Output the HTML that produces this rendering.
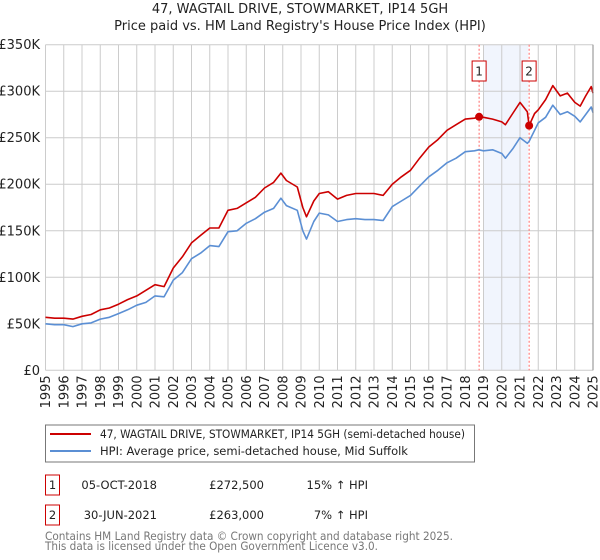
<!DOCTYPE html>
<html><head><meta charset="utf-8"><style>
body{margin:0;background:#fff;font-family:"Liberation Sans","DejaVu Sans",sans-serif;}
#wrap{position:relative;width:600px;height:560px;overflow:hidden;}
</style></head><body>
<div id="wrap">
<svg id="chart" width="600" height="560" style="position:absolute;left:0;top:0;font-family:'DejaVu Sans','Liberation Sans',sans-serif;">
<text x="300" y="13" text-anchor="middle" font-size="13" fill="#222">47, WAGTAIL DRIVE, STOWMARKET, IP14 5GH</text>
<text x="300" y="30" text-anchor="middle" font-size="13" fill="#222">Price paid vs. HM Land Registry's House Price Index (HPI)</text>
<g id="grid"></g><g id="marks"></g><g id="axes"></g>
<rect x="45.5" y="425" width="429" height="37" fill="#fff" stroke="#777"/>
<line x1="50" y1="434" x2="91" y2="434" stroke="#cc0000" stroke-width="2"/>
<text x="100" y="438" font-size="11.5" fill="#222" textLength="365" lengthAdjust="spacingAndGlyphs">47, WAGTAIL DRIVE, STOWMARKET, IP14 5GH (semi-detached house)</text>
<line x1="50" y1="451" x2="91" y2="451" stroke="#5b8fd4" stroke-width="2"/>
<text x="100" y="455" font-size="11.5" fill="#222">HPI: Average price, semi-detached house, Mid Suffolk</text>
<rect x="45.5" y="475" width="14" height="20" fill="#fff" stroke="#cc0000"/>
<text x="52.5" y="489" text-anchor="middle" font-size="11.5" fill="#222">1</text>
<text x="157" y="489" text-anchor="end" font-size="11.5" fill="#222">05-OCT-2018</text>
<text x="264" y="489" text-anchor="end" font-size="11.5" fill="#222">£272,500</text>
<text x="368" y="489" text-anchor="end" font-size="11.5" fill="#222">15% ↑ HPI</text>
<rect x="45.5" y="505" width="14" height="20" fill="#fff" stroke="#cc0000"/>
<text x="52.5" y="519" text-anchor="middle" font-size="11.5" fill="#222">2</text>
<text x="157" y="519" text-anchor="end" font-size="11.5" fill="#222">30-JUN-2021</text>
<text x="264" y="519" text-anchor="end" font-size="11.5" fill="#222">£263,000</text>
<text x="368" y="519" text-anchor="end" font-size="11.5" fill="#222">7% ↑ HPI</text>
<text x="45" y="540" font-size="11.5" fill="#777" textLength="408" lengthAdjust="spacingAndGlyphs">Contains HM Land Registry data © Crown copyright and database right 2025.</text>
<text x="45" y="550" font-size="11.5" fill="#777" textLength="333" lengthAdjust="spacingAndGlyphs">This data is licensed under the Open Government Licence v3.0.</text>
</svg>
</div>
<script>
const dates = [1995,1995.5,1996,1996.5,1997,1997.5,1998,1998.5,1999,1999.5,2000,2000.5,2001,2001.5,2002,2002.5,2003,2003.5,2004,2004.5,2005,2005.5,2006,2006.5,2007,2007.5,2007.9,2008.2,2008.8,2009.1,2009.3,2009.7,2010,2010.5,2011,2011.5,2012,2012.5,2013,2013.5,2014,2014.5,2015,2015.5,2016,2016.5,2017,2017.5,2018,2018.5,2018.75,2019,2019.5,2020,2020.2,2020.6,2021,2021.4,2021.5,2021.8,2022,2022.4,2022.8,2023.2,2023.6,2024,2024.3,2024.6,2024.9,2025];
const hpiValues = [50,49,49,47,50,51,55,57,61,65,70,73,80,79,97,105,120,126,134,133,149,150,158,163,170,174,185,177,172,150,141,160,169,167,160,162,163,162,162,161,176,182,188,198,208,215,223,228,235,236,237,236,237,233,228,238,250,244,246,258,266,272,285,275,278,273,267,275,283,277];
const priceValues = [57,56,56,55,58,60,65,67,71,76,80,86,92,90,110,122,137,145,153,153,172,174,180,186,196,202,212,204,197,175,165,182,190,192,184,188,190,190,190,188,200,208,215,228,240,248,258,264,270,271,272.5,272,270,267,264,276,288,278,263,276,280,291,306,295,298,288,284,295,305,298];
const saleDates = [2018.76, 2021.5];
const salePrices = [272.5, 263];
const saleLabels = ["1","2"];
const yTicks = [0,50,100,150,200,250,300,350];
const yTickLabels = ["£0","£50K","£100K","£150K","£200K","£250K","£300K","£350K"];
const xTicks = [1995,1996,1997,1998,1999,2000,2001,2002,2003,2004,2005,2006,2007,2008,2009,2010,2011,2012,2013,2014,2015,2016,2017,2018,2019,2020,2021,2022,2023,2024,2025];

const NS="http://www.w3.org/2000/svg";
const X0=45.5,X1=593,Y0=370.3,Y1=44.7;
function xs(t){return X0+(t-1995)/30*(X1-X0);}
function ys(v){return Y0-v/350*(Y0-Y1);}
function mk(tag,attrs,parent){const e=document.createElementNS(NS,tag);for(const k in attrs)e.setAttribute(k,attrs[k]);parent.appendChild(e);return e;}
const grid=document.getElementById('grid'),marks=document.getElementById('marks'),axes=document.getElementById('axes');
const sh=mk('rect',{x:xs(2019.0),y:Y1,width:xs(saleDates[1])-xs(2019.0)-1,height:Y0-Y1,fill:'#edf2fc',opacity:0.8},grid);


yTicks.forEach((v,i)=>{
  const l=mk('line',{x1:X0,x2:X1,y1:ys(v),y2:ys(v),stroke:'#cccccc','stroke-width':1},grid);
  
  
  const t=mk('text',{x:40,y:ys(v)+4.5,'text-anchor':'end','font-size':13,fill:'#222'},axes);
  t.textContent=yTickLabels[i];
  
  
});
xTicks.forEach(yr=>{
  const l=mk('line',{x1:xs(yr),x2:xs(yr),y1:Y1,y2:Y0,stroke:'#cccccc','stroke-width':1},grid);
  
  
  const t=mk('text',{x:0,y:0,'text-anchor':'end','font-size':13,fill:'#222',transform:`translate(${xs(yr)+4.5},${Y0+5}) rotate(-90)`},axes);
  t.textContent=yr;
  
  
});
saleDates.forEach((d,i)=>{
  const l=mk('line',{x1:xs(d),x2:xs(d),y1:Y1,y2:Y0,stroke:'#ff6666','stroke-width':1,'stroke-dasharray':'2,2'},marks);
  
  
  const r=mk('rect',{x:xs(d)-7,y:61,width:14,height:20,fill:'#fff',stroke:'#cc0000'},marks);
  
  
  const t=mk('text',{x:xs(d),y:75.5,'text-anchor':'middle','font-size':12,fill:'#222'},marks);
  t.textContent=saleLabels[i];
  
  
});
function line(vals,color,name){
  const p=mk('path',{d:vals.map((v,i)=>(i?'L':'M')+xs(dates[i]).toFixed(1)+','+ys(v).toFixed(1)).join(''),fill:'none',stroke:color,'stroke-width':1.6,'stroke-linejoin':'round'},marks);
  
  
}
line(hpiValues,'#5b8fd4','hpi-line');
line(priceValues,'#cc0000','price-line');
saleDates.forEach((d,i)=>{
  const c=mk('circle',{cx:xs(d),cy:ys(salePrices[i]),r:4,fill:'#cc0000'},marks);
  
  
});
const ax=mk('line',{x1:X1,x2:X1,y1:Y1,y2:Y0,stroke:'#888','stroke-width':1},axes);


</script>
</body></html>
